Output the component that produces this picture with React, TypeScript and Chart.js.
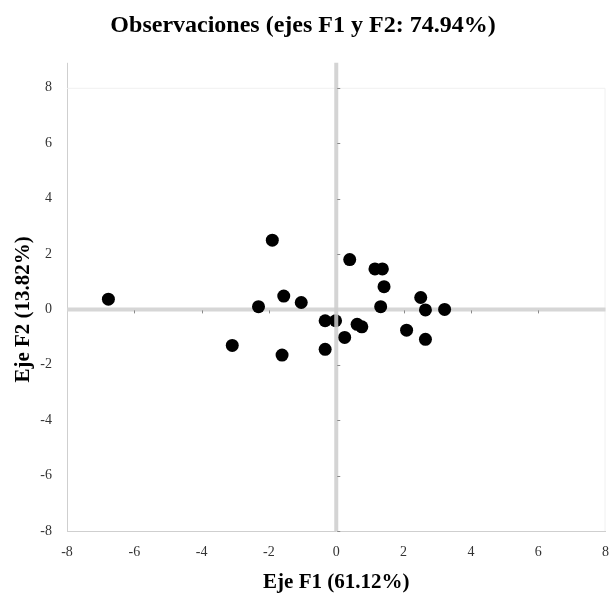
import React, { useEffect, useRef } from "react";
import { Chart, registerables } from "chart.js";

Chart.register(...registerables);

const titleText = "Observaciones (ejes F1 y F2: 74.94%)";
const xTitle = "Eje F1 (61.12%)";
const yTitle = "Eje F2 (13.82%)";

const f1Values = [
  -6.77, -1.9, -2.31, -1.56, -1.04, -3.09, -1.61, -0.33, -0.02, -0.33,
  0.4, 1.15, 1.37, 1.42, 1.32, 0.62, 0.76, 0.25, 2.09, 2.51, 2.65, 2.65, 3.22,
];
const f2Values = [
  0.37, 2.5, 0.1, 0.48, 0.25, -1.3, -1.65, -0.41, -0.41, -1.44,
  1.8, 1.46, 1.46, 0.82, 0.1, -0.54, -0.63, -1.01, -0.75, 0.43, -0.02, -1.08, 0.0,
];

const axisMin = -8;
const axisMax = 8;
const axisStep = 2;

const serif = "'Liberation Serif', 'Times New Roman', serif";

const zeroLinesPlugin = {
  id: "zeroLines",
  beforeDatasetsDraw(chart: any) {
    const { ctx, chartArea, scales } = chart;
    const y0 = scales.y.getPixelForValue(0);
    ctx.save();
    // faint top/right border
    ctx.strokeStyle = "#f0f0f0";
    ctx.lineWidth = 1;
    ctx.beginPath();
    ctx.moveTo(chartArea.left, chartArea.top + 0.5);
    ctx.lineTo(chartArea.right - 0.5, chartArea.top + 0.5);
    ctx.lineTo(chartArea.right - 0.5, chartArea.bottom);
    ctx.stroke();
    // left border extension above plot
    ctx.strokeStyle = "#cfcfcf";
    ctx.beginPath();
    ctx.moveTo(chartArea.left + 0.5, chartArea.top - 25);
    ctx.lineTo(chartArea.left + 0.5, chartArea.top);
    ctx.stroke();
    ctx.strokeStyle = "#d6d6d6";
    ctx.lineWidth = 4;
    ctx.beginPath();
    ctx.moveTo(chartArea.left, y0);
    ctx.lineTo(chartArea.right, y0);
    ctx.stroke();
    ctx.strokeStyle = "#8a8a8a";
    ctx.lineWidth = 1;
    for (let v = axisMin + axisStep; v < axisMax; v += axisStep) {
      if (v === 0) continue;
      const px = Math.round(scales.x.getPixelForValue(v)) + 0.5;
      ctx.beginPath();
      ctx.moveTo(px, y0 + 1);
      ctx.lineTo(px, y0 + 4);
      ctx.stroke();
    }
    ctx.restore();
  },
  afterDatasetsDraw(chart: any) {
    const { ctx, chartArea, scales } = chart;
    const x0 = scales.x.getPixelForValue(0);
    ctx.save();
    ctx.strokeStyle = "rgba(205,205,205,0.85)";
    ctx.lineWidth = 4;
    ctx.beginPath();
    ctx.moveTo(x0, chartArea.top - 25);
    ctx.lineTo(x0, chartArea.bottom);
    ctx.stroke();
    ctx.strokeStyle = "#8a8a8a";
    ctx.lineWidth = 1;
    for (let v = axisMin; v <= axisMax; v += axisStep) {
      if (v === 0) continue;
      const py = Math.round(scales.y.getPixelForValue(v)) + 0.5;
      ctx.beginPath();
      ctx.moveTo(x0 + 1, py);
      ctx.lineTo(x0 + 4, py);
      ctx.stroke();
    }
    ctx.restore();
  },
};

export default function App() {
  const ref = useRef<HTMLCanvasElement | null>(null);

  useEffect(() => {
    if (!ref.current) return;
    const points = f1Values.map((x, i) => ({ x, y: f2Values[i] }));
    const chart = new Chart(ref.current, {
      type: "scatter",
      data: {
        datasets: [
          {
            data: points,
            backgroundColor: "#000000",
            borderWidth: 0,
            pointRadius: 6.5,
          },
        ],
      },
      options: {
        animation: false,
        responsive: false,
        maintainAspectRatio: false,
        devicePixelRatio: 1,
        layout: { padding: { left: 0, right: 6, top: 0, bottom: 0 } },
        plugins: {
          legend: { display: false },
          tooltip: { enabled: false },
          title: {
            display: true,
            text: titleText,
            color: "#000",
            font: { family: serif, size: 24, weight: "bold" },
            padding: { top: 11, bottom: 48 },
          },
        },
        scales: {
          x: {
            type: "linear",
            min: axisMin,
            max: axisMax,
            afterFit: (s: any) => {
              s.height = 66;
              s.paddingRight = 0;
              s.paddingLeft = 0;
            },
            grid: { display: false, drawTicks: false },
            border: { display: true, color: "#cfcfcf", width: 1 },
            ticks: {
              stepSize: axisStep,
              padding: 13,
              color: "#333",
              font: { family: serif, size: 14 },
            },
            title: {
              display: true,
              text: xTitle,
              color: "#000",
              font: { family: serif, size: 21, weight: "bold" },
              padding: { top: 0, bottom: 2 },
            },
          },
          y: {
            type: "linear",
            min: axisMin,
            max: axisMax,
            afterFit: (s: any) => {
              s.width = 67;
            },
            grid: { display: false, drawTicks: false },
            border: { display: true, color: "#cfcfcf", width: 1 },
            ticks: {
              stepSize: axisStep,
              padding: 15,
              color: "#333",
              font: { family: serif, size: 14 },
            },
            title: {
              display: true,
              text: yTitle,
              color: "#000",
              font: { family: serif, size: 21, weight: "bold" },
              padding: { top: 11, bottom: 0 },
            },
          },
        },
      },
      plugins: [zeroLinesPlugin],
    });
    return () => chart.destroy();
  }, []);

  return (
    <div style={{ position: "fixed", left: 0, top: 0, width: 612, height: 597, background: "#fff" }}>
      <canvas ref={ref} width={612} height={597} style={{ display: "block", width: 612, height: 597 }} />
    </div>
  );
}
